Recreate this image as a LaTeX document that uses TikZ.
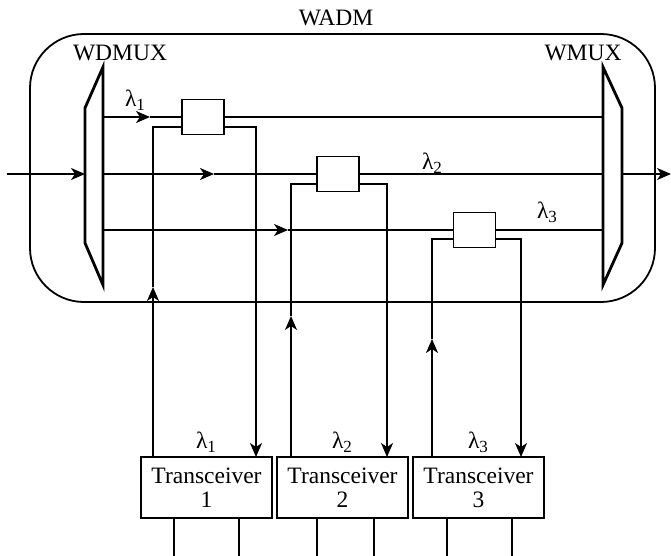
\documentclass[tikz,border=0pt]{standalone}
\usepackage{fontspec}
\setmainfont{Liberation Serif}
\usetikzlibrary{arrows.meta,calc}
\newcommand{\lam}[1]{λ\raisebox{-0.35ex}{\fontsize{17}{17}\selectfont #1}}
\begin{document}
\begin{tikzpicture}[x=1pt,y=-1pt,
  every node/.style={font=\fontsize{23.5}{24}\selectfont},
  ln/.style={line width=1.8pt},
  arr/.style={ln,-{Stealth[length=14pt,width=12pt,inset=4pt]}},
  trap/.style={line width=2.8pt,line join=miter},
  filt/.style={draw,ln,fill=white,minimum width=42pt,minimum height=35pt,inner sep=0pt},
  trx/.style={draw,ln,fill=white,minimum width=131pt,minimum height=61pt,inner sep=0pt,align=center,font=\fontsize{23.5}{24}\selectfont},
  lbl/.style={inner sep=0pt}]
\useasboundingbox (0,0) rectangle (671,556);
% enclosure
\draw[ln,rounded corners=54pt] (30,34) rectangle (655,302);
\node[lbl] (wadm) at (336,18) {WADM};
\node[lbl] (wdmuxl) at (120,53) {WDMUX};
\node[lbl] (wmuxl) at (583,53) {WMUX};
% demux / mux
\draw[trap] (103,67) -- (103,285) -- (85,243) -- (85,108) -- cycle;
\draw[trap] (603,67) -- (603,285) -- (622,243) -- (622,108) -- cycle;
\coordinate (inL) at (7,174);
\coordinate (inR) at (85,174);
\coordinate (outL) at (622,174);
\coordinate (outR) at (671,174);
\draw[arr] (inL) -- (inR);
\draw[arr] (outL) -- (outR);
% filters
\node[filt] (f1) at (203,117) {};
\node[filt] (f2) at (338,174) {};
\node[filt] (f3) at (474.5,230) {};
% channel lines
\coordinate (d1) at (103,117); \coordinate (m1) at (603,117); \coordinate (a1) at (150,117);
\coordinate (d2) at (103,174); \coordinate (m2) at (603,174); \coordinate (a2) at (214,174);
\coordinate (d3) at (103,230); \coordinate (m3) at (603,230); \coordinate (a3) at (288,230);
\draw[arr] (d1) -- (a1); \draw[ln] (a1) -- (f1.west); \draw[ln] (f1.east) -- (m1);
\draw[arr] (d2) -- (a2); \draw[ln] (a2) -- (f2.west); \draw[ln] (f2.east) -- (m2);
\draw[arr] (d3) -- (a3); \draw[ln] (a3) -- (f3.west); \draw[ln] (f3.east) -- (m3);
\node[lbl] (l1) at (135,100) {\lam{1}};
\node[lbl] (l2) at (432,163) {\lam{2}};
\node[lbl] (l3) at (547,212) {\lam{3}};
% transceivers
\node[trx] (t1) at (206.5,487.5) {Transceiver\\1};
\node[trx] (t2) at (342.5,487.5) {Transceiver\\2};
\node[trx] (t3) at (478.5,487.5) {Transceiver\\3};
\node[lbl] (tl1) at (206,442) {\lam{1}};
\node[lbl] (tl2) at (342,442) {\lam{2}};
\node[lbl] (tl3) at (478,442) {\lam{3}};
% add / drop loops
\coordinate (u1a) at (153,457); \coordinate (u1b) at (153,287); \coordinate (u1c) at (153,127);
\coordinate (v1a) at (256,127); \coordinate (v1b) at (256,457);
\draw[arr] (u1a) -- (u1b); \draw[ln] (u1b) -- (u1c) -- (f1.west |- u1c);
\draw[arr] (f1.east |- v1a) -- (v1a) -- (v1b);
\coordinate (u2a) at (291,457); \coordinate (u2b) at (291,316); \coordinate (u2c) at (291,184);
\coordinate (v2a) at (387,184); \coordinate (v2b) at (387,457);
\draw[arr] (u2a) -- (u2b); \draw[ln] (u2b) -- (u2c) -- (f2.west |- u2c);
\draw[arr] (f2.east |- v2a) -- (v2a) -- (v2b);
\coordinate (u3a) at (432,457); \coordinate (u3b) at (432,339); \coordinate (u3c) at (432,239);
\coordinate (v3a) at (521,239); \coordinate (v3b) at (521,457);
\draw[arr] (u3a) -- (u3b); \draw[ln] (u3b) -- (u3c) -- (f3.west |- u3c);
\draw[arr] (f3.east |- v3a) -- (v3a) -- (v3b);
% bottom stubs
\foreach \x in {174,239,317,374,447,512}{
  \draw[ln] (\x,518) -- (\x,556);
}
\end{tikzpicture}
\end{document}
